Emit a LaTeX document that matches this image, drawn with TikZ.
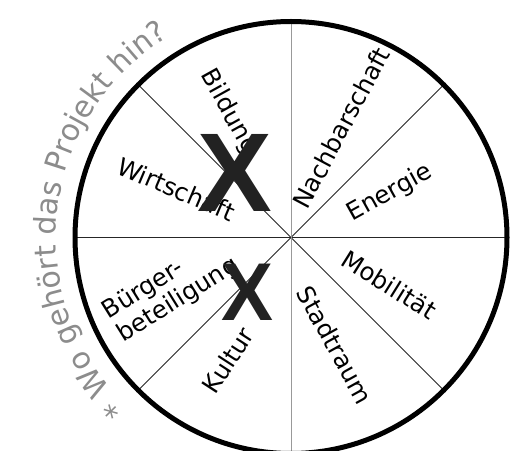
\documentclass[tikz,border=0pt]{standalone}
\usepackage{fontspec}
\newfontfamily\sectorfont{DejaVu Sans}
\newfontfamily\crossfont{Liberation Sans}
\usetikzlibrary{decorations.text}
\definecolor{ringgray}{RGB}{140,140,140}
\definecolor{crossblack}{RGB}{34,34,34}

\begin{document}
\begin{tikzpicture}[line cap=round,line join=round,x=1pt,y=1pt,
	sector/.style={font=\sectorfont\fontsize{24.5}{27}\selectfont, inner sep=0pt},
	cross/.style={font=\crossfont\bfseries, text=crossblack, inner sep=0pt}]
			\useasboundingbox (0,0) rectangle (511,450);
			\coordinate (hub) at (291,212.5);
			\foreach \a in {0,45,135,180,225,315}
				\draw[line width=0.9pt, black!85] (hub) -- ++(\a:216);
			\draw[line width=0.9pt, black!40] (hub) -- ++(90:216);
			\draw[line width=0.9pt, black!40] (hub) -- ++(270:216);
			\draw[line width=5pt] (hub) circle(216);
			\node[sector, rotate=-61] (bildung) at (229,338) {Bildung};
			\node[sector, rotate=-23] (wirtschaft) at (176,261) {Wirtschaft};
			\node[sector, rotate=62] (nachbarschaft) at (341,322) {Nachbarschaft};
			\node[sector, rotate=29] (energie) at (390,257) {Energie};
			\node[sector, rotate=-32] (mobilitaet) at (389,165) {Mobilität};
			\node[sector, rotate=-61] (stadtraum) at (335,105) {Stadtraum};
			\node[sector, rotate=57] (kultur) at (228,90) {Kultur};
			\node[sector, rotate=32, align=left] (buerger) at (171,161) {Bürger-\\beteiligung};
			\node[cross, font=\crossfont\bfseries\fontsize{112}{112}\selectfont] (bigx) at (235,277) {X};
			\node[cross, font=\crossfont\bfseries\fontsize{82}{82}\selectfont, xscale=0.95] (smallx) at (247,158) {X};
			\path[decorate, decoration={text along path, text format delimiters={|}{|},
				text={|\sectorfont\fontsize{30}{30}\selectfont\color{ringgray}|* Wo gehört das Projekt hin?}}]
				(hub) ++(226:235) arc[start angle=226, end angle=110, radius=235];
\end{tikzpicture}
\end{document}
